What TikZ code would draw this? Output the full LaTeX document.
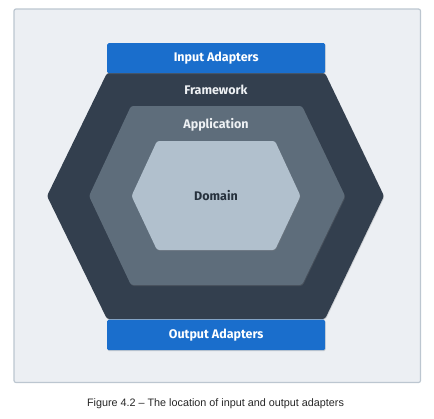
\documentclass[tikz,border=0pt]{standalone}
\usepackage{fontspec}
\setmainfont{Liberation Sans}
\newfontfamily\labelfont{Fira Sans}
\usetikzlibrary{shadows}
\definecolor{panelbg}{HTML}{ECEFF3}
\definecolor{panelbd}{HTML}{BCC6D0}
\definecolor{adblue}{HTML}{1A6ECC}
\definecolor{fwcol}{HTML}{333F4E}
\definecolor{appcol}{HTML}{5E6D7B}
\definecolor{domcol}{HTML}{B1C0CD}
\definecolor{lighttext}{HTML}{EEF1F4}
\definecolor{darktext}{HTML}{26313D}
\tikzset{
  x=1pt, y=-1pt,
  hexlayer/.style={rounded corners=2.5pt, drop shadow={shadow xshift=0.6pt, shadow yshift=-1pt, opacity=0.25}},
  adapterbox/.style={fill=adblue, rounded corners=1.5pt, drop shadow={shadow xshift=0.5pt, shadow yshift=-1pt, opacity=0.3}},
  layertext/.style={font=\labelfont\bfseries\fontsize{12.5}{14}\selectfont},
}
\begin{document}
\begin{tikzpicture}
\useasboundingbox (0,0) rectangle (434,418);
% panel
\draw[fill=panelbg, draw=panelbd, line width=1.2pt, rounded corners=2pt] (14,9) rectangle (420.5,382.5);
% layers
\fill[fwcol, hexlayer] (107,73) -- (325,73) -- (384,196) -- (325,319) -- (107,319) -- (47,196) -- cycle;
\fill[appcol, hexlayer] (131,106) -- (302,106) -- (345,196) -- (302,285) -- (131,285) -- (89,196) -- cycle;
\fill[domcol, hexlayer] (157,141) -- (275,141) -- (300.5,196) -- (275,250) -- (157,250) -- (131.5,196) -- cycle;
% adapters
\node[adapterbox, minimum width=218pt, minimum height=30pt, inner sep=0pt, anchor=north west, text=white, layertext] (in) at (107,43) {Input Adapters};
\node[adapterbox, minimum width=218pt, minimum height=30.5pt, inner sep=0pt, anchor=north west, text=white, layertext] (out) at (107,319.5) {Output Adapters};
% labels
\node[layertext, text=lighttext] (fw) at (216,89.5) {Framework};
\node[layertext, text=lighttext] (app) at (216,124.5) {Application};
\node[layertext, text=darktext] (dom) at (216,196) {Domain};
% caption
\node[font=\fontsize{10.8}{13}\selectfont, text=black!85] (cap) at (215.5,403.5) {Figure 4.2 -- The location of input and output adapters};
\end{tikzpicture}
\end{document}
